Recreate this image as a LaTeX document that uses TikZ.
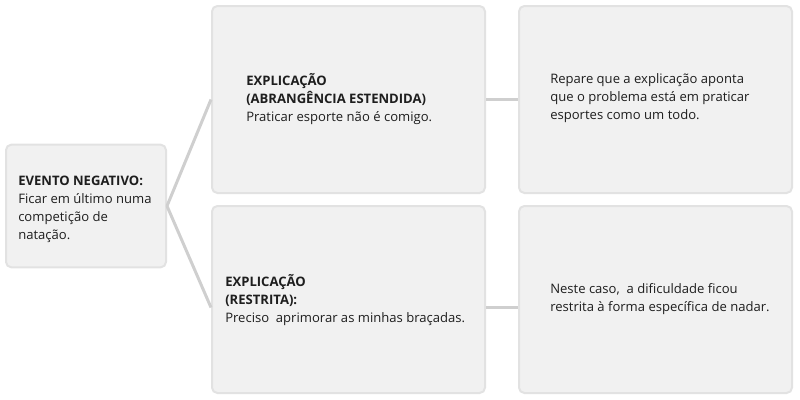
\documentclass[tikz,border=0pt]{standalone}
\usepackage{fontspec}
\setmainfont{Open Sans}
\definecolor{boxfill}{HTML}{F1F1F1}
\definecolor{boxline}{HTML}{E2E2E2}
\definecolor{connline}{HTML}{CFCFCF}
\definecolor{txt}{HTML}{1E1E1E}

\begin{document}
\begin{tikzpicture}[x=0.75pt,y=-0.75pt,
    conn/.style={draw=connline,line width=2.25pt},
    txtnode/.style={anchor=west,align=left,inner sep=0pt,text=txt,
      font=\fontsize{9.8pt}{13.5pt}\selectfont}]
        \useasboundingbox (0,0) rectangle (800,400);
        \begin{scope}[every node/.style={draw=boxline,fill=boxfill,rounded corners=4pt,line width=1.5pt,inner sep=0pt}]
        % Evento
        \node[minimum width=120pt,minimum height=92pt] (evento) at (86,206) {};
        
        % Explicacoes
        \node[minimum width=204.75pt,minimum height=140.25pt] (expl1) at (348.5,99.5) {};
        \node[minimum width=204.75pt,minimum height=140.25pt] (expl2) at (348.5,299.5) {};
        
        % Observacoes
        \node[minimum width=204.75pt,minimum height=140.25pt] (obs1) at (655.5,99.5) {};
        \node[minimum width=204.75pt,minimum height=140.25pt] (obs2) at (655.5,299.5) {};
        \end{scope}
        
        % Textos
        \node[txtnode] (eventotxt) at (18,209) {\textbf{EVENTO NEGATIVO:}\\Ficar em último numa\\competição de\\natação.};
        \node[txtnode] (expl1txt) at (246,99) {\textbf{EXPLICAÇÃO}\\\textbf{(ABRANGÊNCIA ESTENDIDA)}\\Praticar esporte não é comigo.};
        \node[txtnode] (expl2txt) at (225,300) {\textbf{EXPLICAÇÃO}\\\textbf{(RESTRITA):}\\Preciso\ \ aprimorar as minhas braçadas.};
        \node[txtnode] (obs1txt) at (550,98) {Repare que a explicação aponta\\que o problema está em praticar\\esportes como um todo.};
        \node[txtnode] (obs2txt) at (550,299) {Neste caso,\ \ a dificuldade ficou\\restrita à forma específica de nadar.};
        
        \path[conn] (evento.east) edge (expl1.west)
              edge ([yshift=-6pt]expl2.west)
              (expl1.east) edge (obs1.west)
              ([yshift=-6pt]expl2.east) edge ([yshift=-6pt]obs2.west);
    \end{tikzpicture}
\end{document}
